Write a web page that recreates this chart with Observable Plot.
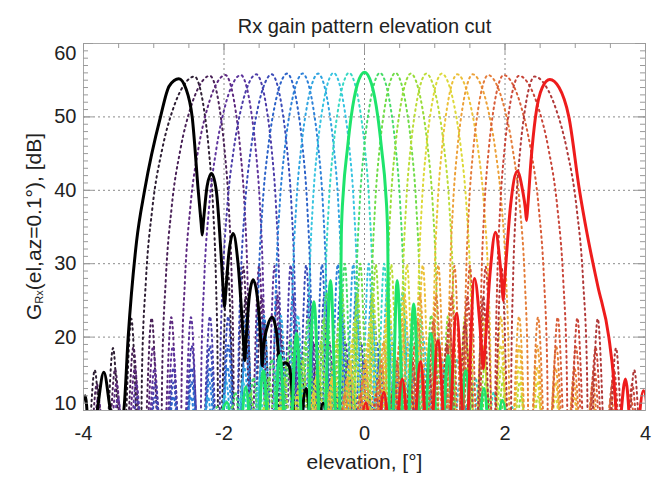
<!DOCTYPE html>
<html><head><meta charset="utf-8">
<script src="https://cdn.jsdelivr.net/npm/d3@7"></script>
<script src="https://cdn.jsdelivr.net/npm/@observablehq/plot@0.6"></script>
<style>body{margin:0;background:#fff} svg{display:block}</style>
</head><body><div id="chart"></div>
<script>
const title = "Rx gain pattern elevation cut";
const xLabel = "elevation, [°]";
const xTickLabels = [-4, -2, 0, 2, 4];
const yTickLabels = [10, 20, 30, 40, 50, 60];
const xGrid = [-2, 0, 2];
const yGrid = [20, 30, 40, 50];

// solid beams: [elevation, gain dB]
const blackBeam = [[-4.10,0],[-3.975,12.0],[-3.90,4],[-3.805,10],[-3.711,15.2],[-3.616,10],[-3.525,6],[-3.426,10],[-3.364,20],[-3.245,33],[-3.13,40],[-2.904,50],[-2.78,54.2],[-2.643,55.2],[-2.54,53.8],[-2.453,50],[-2.367,40],[-2.325,35.5],[-2.31,33.9],[-2.295,35.5],[-2.24,40.6],[-2.178,42.3],[-2.11,40],[-2.04,31],[-2.005,25.5],[-1.993,24.1],[-1.98,25.5],[-1.93,31.5],[-1.869,34.1],[-1.80,30],[-1.72,19],[-1.704,16.8],[-1.69,19],[-1.64,25.5],[-1.585,27.8],[-1.52,25],[-1.47,18.5],[-1.456,16.1],[-1.44,18.5],[-1.38,21.5],[-1.314,22.7],[-1.25,20.5],[-1.20,16],[-1.13,16.5],[-1.07,16],[-0.96,5],[-0.83,13],[-0.72,3],[-0.59,11],[-0.48,0]];
const greenBeam = [[-2.2,0],[-1.955,11.1],[-1.82,0],[-1.69,13.2],[-1.565,0],[-1.44,15.4],[-1.32,0],[-1.206,17.5],[-1.085,0],[-0.968,20.5],[-0.845,0],[-0.72,24.8],[-0.60,0],[-0.484,27.7],[-0.37,0],[-0.352,10],[-0.345,20],[-0.33,34],[-0.30,40],[-0.246,45.4],[-0.19,50],[-0.10,54.5],[0,56.1],[0.10,54.5],[0.19,50],[0.246,45.4],[0.30,40],[0.33,34],[0.345,20],[0.352,10],[0.37,0],[0.465,27.7],[0.585,0],[0.70,24.5],[0.82,0],[0.945,20.5],[1.07,0],[1.19,17.5],[1.315,0],[1.44,15.4],[1.57,0],[1.70,13.0],[1.83,0],[1.96,11.4],[2.1,0]];
const redBeam = [[-0.12,0],[0.02,11.0],[0.14,2],[0.275,12.5],[0.406,2],[0.537,14.3],[0.667,2],[0.797,16.6],[0.92,2],[1.044,19.5],[1.177,3],[1.31,23.2],[1.438,5],[1.566,28.0],[1.64,22],[1.676,17.2],[1.69,15.7],[1.705,17.2],[1.79,29],[1.865,34.3],[1.93,30],[1.962,26.5],[1.974,25.0],[1.986,26.5],[2.08,38],[2.174,42.6],[2.25,40],[2.29,37.5],[2.306,35.9],[2.322,37.5],[2.37,44],[2.434,50],[2.53,54],[2.638,55.1],[2.77,54],[2.909,50],[3.06,40],[3.17,34],[3.32,27],[3.478,20],[3.55,14],[3.58,10],[3.60,6],[3.715,14.3],[3.83,3],[3.97,12.7],[4.1,0]];

// dotted beams
const beamCenters = [-2.42,-2.20,-1.98,-1.76,-1.54,-1.32,-1.10,-0.88,-0.66,-0.44,-0.22, 0.22,0.44,0.66,0.88,1.10,1.32,1.54,1.76,1.98,2.20,2.42];
const beamPeaks   = [55.5,55.6,55.7,55.7,55.8,55.8,55.9,55.9,55.9,56.0,56.0, 56.0,56.0,55.9,55.9,55.9,55.8,55.8,55.7,55.7,55.6,55.5];
const outerNull   = [0.77,0.70,0.64,0.58,0.53,0.49,0.45,0.42,0.40,0.38,0.37, 0.37,0.38,0.40,0.42,0.45,0.49,0.53,0.58,0.64,0.70,0.77];
const innerNull   = [0.34,0.345,0.35,0.35,0.36,0.36,0.365,0.37,0.37,0.37,0.37, 0.37,0.37,0.37,0.37,0.365,0.36,0.36,0.35,0.35,0.345,0.34];
const mainLobeOffset = [0, 0.2, 0.4, 0.6, 0.78, 0.9, 0.97, 1.0];
const mainLobeRel    = [0, -1.2, -4.5, -10, -18, -28, -40, -56];
const innerSideLobes = [-26, -30, -33.5, -36.5, -39, -41.5, -43.5, -45.5, -47];
const outerSideLobes = [-33, -37, -40, -42, -44, -46];
const lobeStep = 0.26;
const beamColors = ["#2e1f34","#4a2258","#5e2a80","#5e349c","#4c3ca8","#3a4ab8","#2c62c8","#2c80d8","#30a4e0","#38c4e0","#38d8c4",
                    "#48dc68","#70dc48","#98dc38","#bcdc38","#dcd838","#ecc038","#eca038","#e47c38","#d85c38","#c84438","#b03838"];

const dotted = [];
beamCenters.forEach((c, i) => {
  const p = beamPeaks[i];
  const wL = c < 0 ? outerNull[i] : innerNull[i];
  const wR = c < 0 ? innerNull[i] : outerNull[i];
  const slL = c < 0 ? outerSideLobes : innerSideLobes;
  const slR = c < 0 ? innerSideLobes : outerSideLobes;
  const pts = [];
  for (let k = slL.length - 1; k >= 0; k--) {
    pts.push([c - wL - lobeStep * (k + 1), 0]);
    pts.push([c - wL - lobeStep * (k + 0.5), p + slL[k]]);
  }
  for (let j = mainLobeOffset.length - 1; j > 0; j--) pts.push([c - wL * mainLobeOffset[j], p + mainLobeRel[j]]);
  pts.push([c, p]);
  for (let j = 1; j < mainLobeOffset.length; j++) pts.push([c + wR * mainLobeOffset[j], p + mainLobeRel[j]]);
  for (let k = 0; k < slR.length; k++) {
    pts.push([c + wR + lobeStep * (k + 0.5), p + slR[k]]);
    pts.push([c + wR + lobeStep * (k + 1), 0]);
  }
  pts.forEach(([el, g]) => dotted.push({beam: i, el, g, color: beamColors[i]}));
});

const toRows = (arr) => arr.map(([el, g]) => ({el, g}));

const W = 654, H = 485, mL = 83, mR = 9, mT = 43, mB = 75;
const pw = W - mL - mR, ph = H - mT - mB;
const font = "Liberation Sans, Arial, Helvetica, sans-serif";
const yMinor = d3.range(10, 61, 1);
const yMajor = d3.range(10, 61, 10);
const xMinor = d3.range(-4, 4.01, 0.5);

const plot = Plot.plot({
  width: W, height: H,
  marginLeft: mL, marginRight: mR, marginTop: mT, marginBottom: mB,
  x: {domain: [-4, 4], axis: null},
  y: {domain: [10, 60], axis: null},
  color: {type: "identity"},
  style: {fontFamily: font, background: "#fff"},
  marks: [
    Plot.ruleY(yGrid, {y: d => d, stroke: "#8a8a8a", strokeDasharray: "2,3", strokeWidth: 1}),
    Plot.ruleX(xGrid, {x: d => d, stroke: "#8a8a8a", strokeDasharray: "2,3", strokeWidth: 1}),
    Plot.line(dotted, {x: "el", y: "g", z: "beam", stroke: "color", strokeWidth: 2, strokeDasharray: "1.6,3.8", curve: "monotone-x", clip: true}),
    Plot.line(toRows(blackBeam), {x: "el", y: "g", stroke: "#000", strokeWidth: 3, curve: "monotone-x", clip: true}),
    Plot.line(toRows(greenBeam), {x: "el", y: "g", stroke: "#1ee46c", strokeWidth: 3, curve: "monotone-x", clip: true}),
    Plot.line(toRows(redBeam), {x: "el", y: "g", stroke: "#ee1c1c", strokeWidth: 3, curve: "monotone-x", clip: true}),
    Plot.frame({stroke: "#a8a8a8", strokeWidth: 1}),
    // ticks (inward)
    Plot.tickY(yMinor, {y: d => d, insetRight: pw - 5, stroke: "#9a9a9a"}),
    Plot.tickY(yMajor, {y: d => d, insetRight: pw - 10, stroke: "#9a9a9a"}),
    Plot.tickY(yMinor, {y: d => d, insetLeft: pw - 5, stroke: "#9a9a9a"}),
    Plot.tickY(yMajor, {y: d => d, insetLeft: pw - 10, stroke: "#9a9a9a"}),
    Plot.tickX(xMinor, {x: d => d, insetBottom: ph - 5, stroke: "#9a9a9a"}),
    Plot.tickX(xTickLabels, {x: d => d, insetBottom: ph - 10, stroke: "#9a9a9a"}),
    // tick labels
    Plot.text(xTickLabels, {x: d => d, text: d => String(d), frameAnchor: "bottom", dy: 29, fontSize: 20, fill: "#222"}),
    Plot.text(yTickLabels.filter(d => d > 10 && d < 60), {y: d => d, text: d => String(d), frameAnchor: "left", dx: -7, textAnchor: "end", fontSize: 20, fill: "#222"}),
    Plot.text(yTickLabels.filter(d => d === 60), {y: d => d, text: d => String(d), frameAnchor: "left", dx: -7, dy: 10, textAnchor: "end", fontSize: 20, fill: "#222"}),
    Plot.text(yTickLabels.filter(d => d === 10), {y: d => d, text: d => String(d), frameAnchor: "left", dx: -7, dy: -7, textAnchor: "end", fontSize: 20, fill: "#222"}),
    Plot.text([title], {text: d => d, frameAnchor: "top", dy: -25, fontSize: 20, fill: "#222"}),
    Plot.text([xLabel], {text: d => d, frameAnchor: "bottom", dy: 58, fontSize: 21, fill: "#222"})
  ]
});

const svg = d3.select(plot);
const yl = svg.append("text")
  .attr("transform", `translate(35,${mT + ph / 2}) rotate(-90)`)
  .attr("text-anchor", "middle")
  .attr("dominant-baseline", "middle")
  .attr("font-family", font)
  .attr("font-size", 21)
  .attr("fill", "#222");
yl.append("tspan").text("G");
yl.append("tspan").attr("font-size", 11).attr("dy", 5).text("Rx");
yl.append("tspan").attr("dy", -5).text("(el,az=0.1°), [dB]");

document.getElementById("chart").appendChild(plot);
</script>
</body></html>
